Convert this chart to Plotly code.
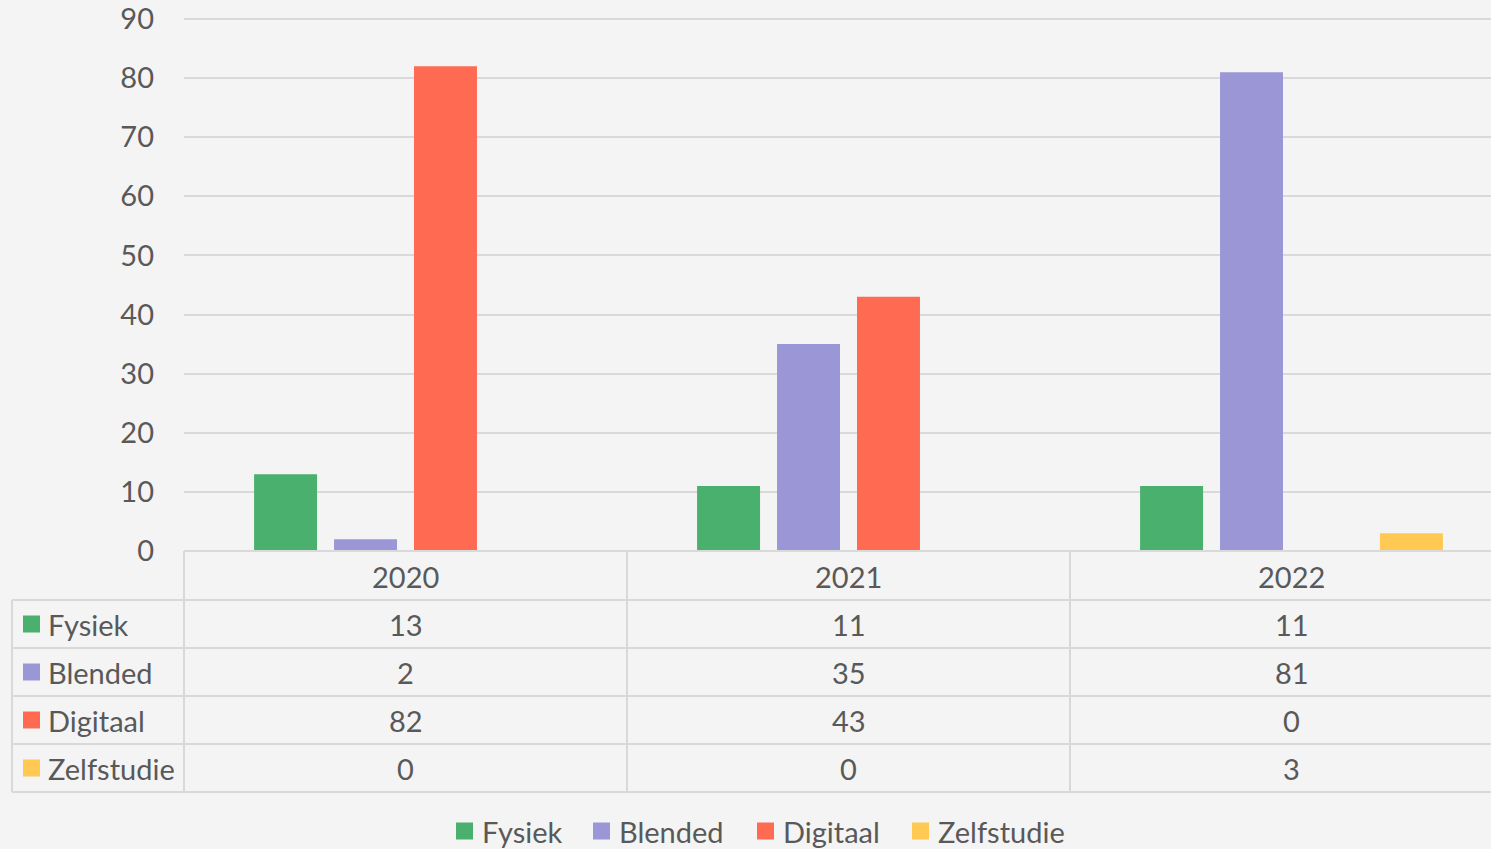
import plotly.graph_objects as go

years = ["2020", "2021", "2022"]
series_names = ["Fysiek", "Blended", "Digitaal", "Zelfstudie"]
fysiek = [13, 11, 11]
blended = [2, 35, 81]
digitaal = [82, 43, 0]
zelfstudie = [0, 0, 3]
y_ticks = [0, 10, 20, 30, 40, 50, 60, 70, 80, 90]

colors = ["#4ab06e", "#9b97d6", "#ff6a53", "#ffc954"]
values = [fysiek, blended, digitaal, zelfstudie]

W, H = 1491, 849
L, T, B = 184, 17, 298
plot_w = W - L
plot_h = H - T - B
y_max = 90 * plot_h / 532.0  # keeps 90 at pixel 19 and 0 at pixel 551
group_px = 443.0
FONT = "Lato"
TXT = "#595959"
GRID = "#d9d9d9"
BG = "#f4f4f4"
FS = 29

def px_x(p):
    return (p - L) / plot_w

def px_y(p):
    return (H - B - p) / plot_h

fig = go.Figure()
for name, vals, c in zip(series_names, values, colors):
    fig.add_trace(go.Bar(name=name, x=list(range(len(years))), y=vals,
                         marker=dict(color=c, line=dict(width=0)),
                         showlegend=False, hoverinfo="skip"))

shapes = []
annotations = []
row_lines = [600, 648, 696, 744, 792]
header_mid = 576
row_mids = [624, 672, 720, 768]
left_edge = 12

shapes.append(dict(type="line", xref="paper", yref="paper", x0=0, x1=1,
                   y0=0, y1=0, line=dict(color=GRID, width=2), layer="above"))
for rp in row_lines:
    shapes.append(dict(type="line", xref="paper", yref="paper",
                       x0=px_x(left_edge), x1=1, y0=px_y(rp), y1=px_y(rp),
                       line=dict(color=GRID, width=2)))
shapes.append(dict(type="line", xref="paper", yref="paper",
                   x0=px_x(left_edge), x1=px_x(left_edge),
                   y0=px_y(row_lines[0]), y1=px_y(row_lines[-1]),
                   line=dict(color=GRID, width=2)))
for i in range(len(years)):
    xb = px_x(L + i * group_px)
    shapes.append(dict(type="line", xref="paper", yref="paper", x0=xb, x1=xb,
                       y0=0, y1=px_y(row_lines[-1]),
                       line=dict(color=GRID, width=2)))

def text(x, xref, y, s, xanchor="center"):
    return dict(x=x, xref=xref, y=y, yref="paper", text=s, showarrow=False,
                xanchor=xanchor, yanchor="middle",
                font=dict(family=FONT, size=FS, color=TXT))

for i, yr in enumerate(years):
    annotations.append(text(i, "x", px_y(header_mid), yr))

half = 8.5
for r, (name, vals, c) in enumerate(zip(series_names, values, colors)):
    ym = px_y(row_mids[r])
    shapes.append(dict(type="rect", xref="paper", yref="paper",
                       x0=px_x(23), x1=px_x(40),
                       y0=ym - half / plot_h, y1=ym + half / plot_h,
                       fillcolor=c, line=dict(width=0)))
    annotations.append(text(px_x(46), "paper", ym, name, "left"))
    for i, v in enumerate(vals):
        annotations.append(text(i, "x", ym, str(v)))

# bottom legend
legend_sq_x = [456, 593, 757, 912]
legend_y = px_y(831)
for name, c, sx in zip(series_names, colors, legend_sq_x):
    shapes.append(dict(type="rect", xref="paper", yref="paper",
                       x0=px_x(sx), x1=px_x(sx + 17),
                       y0=legend_y - half / plot_h, y1=legend_y + half / plot_h,
                       fillcolor=c, line=dict(width=0)))
    annotations.append(text(px_x(sx + 24), "paper", legend_y, name, "left"))

fig.update_layout(
    width=W, height=H,
    margin=dict(l=L, r=0, t=T, b=B, pad=0),
    paper_bgcolor=BG, plot_bgcolor=BG,
    barmode="group", bargap=0.278, bargroupgap=0.2125,
    font=dict(family=FONT, size=FS, color=TXT),
    xaxis=dict(range=[-0.5, -0.5 + plot_w / group_px], showticklabels=False,
               showgrid=False, zeroline=False, showline=False, fixedrange=True),
    yaxis=dict(range=[0, y_max], tickvals=y_ticks, showgrid=True, gridcolor=GRID,
               gridwidth=2, zeroline=False, showline=False, fixedrange=True,
               ticklabelstandoff=29,
               tickfont=dict(family=FONT, size=FS, color=TXT)),
    showlegend=False,
    shapes=shapes, annotations=annotations,
)

fig.write_html("out.html", config={"displayModeBar": False},
               post_script="document.body.style.margin='0';document.body.style.background='#f4f4f4';")
